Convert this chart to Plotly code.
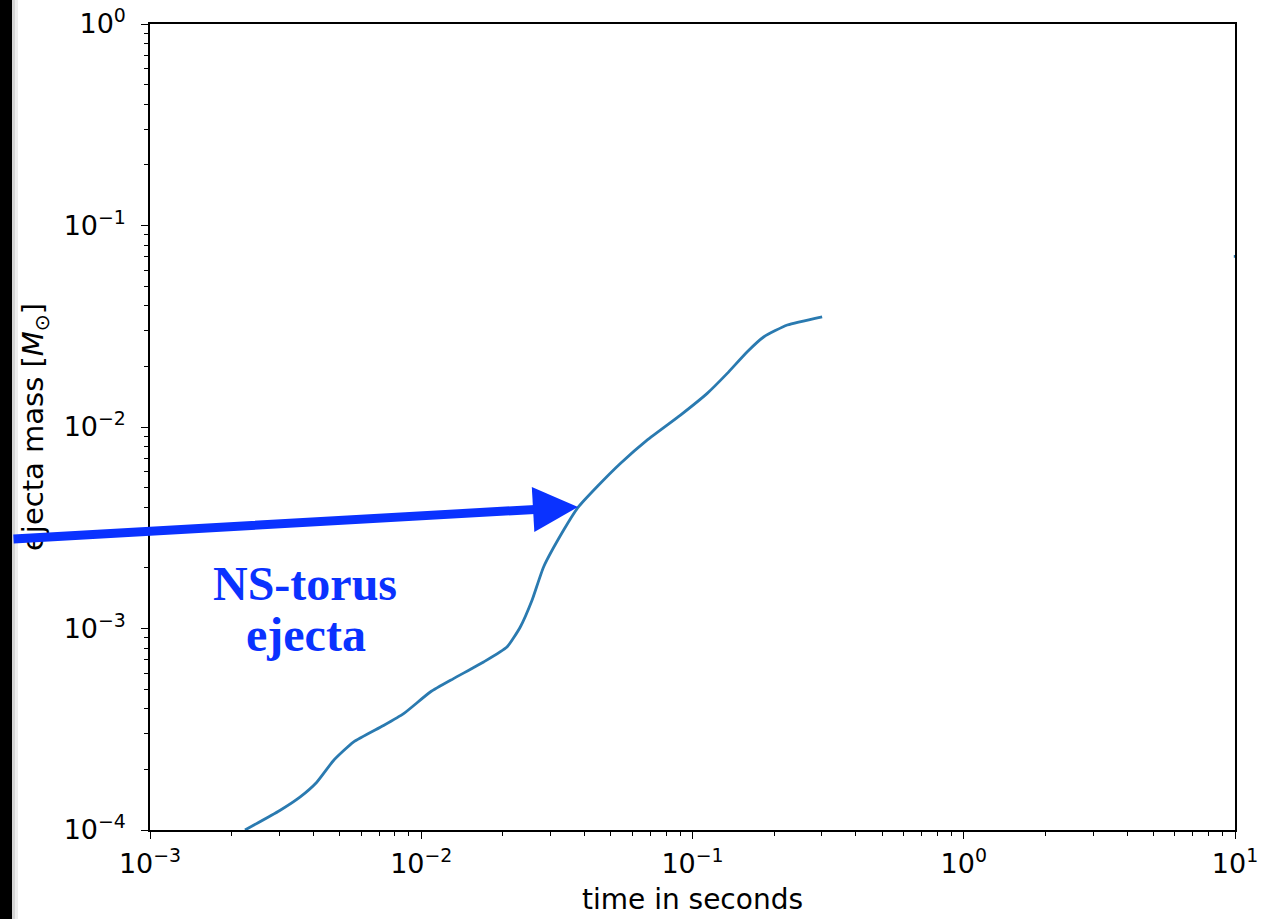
import plotly.graph_objects as go

# ---- data ----
time_s = [0.00224, 0.00301, 0.00357, 0.00412, 0.00475, 0.00562, 0.00726, 0.00861,
          0.0108, 0.01315, 0.01698, 0.0207, 0.02318, 0.02561, 0.02825, 0.0335,
          0.03785, 0.04446, 0.0542, 0.068, 0.0903, 0.1133, 0.1343, 0.1592,
          0.1834, 0.2236, 0.3006]
ejecta_mass = [1.0e-4, 1.25e-4, 1.456e-4, 1.727e-4, 2.213e-4, 2.73e-4, 3.30e-4, 3.78e-4,
               4.84e-4, 5.64e-4, 6.82e-4, 8.09e-4, 1.017e-3, 1.38e-3, 2.02e-3, 3.08e-3,
               3.99e-3, 5.05e-3, 6.59e-3, 8.61e-3, 0.01146, 0.01469, 0.01846, 0.02364,
               0.02805, 0.03206, 0.03524]
# second (barely visible) series clipped at the right edge
time_s_2 = [9.9, 12.0]
ejecta_mass_2 = [0.0703, 0.0706]

x_tickvals = [1e-3, 1e-2, 1e-1, 1e0, 1e1]
x_ticktext = ["10<sup>\u22123</sup>", "10<sup>\u22122</sup>", "10<sup>\u22121</sup>",
              "10<sup>0</sup>", "10<sup>1</sup>"]
y_tickvals = [1e-4, 1e-3, 1e-2, 1e-1, 1e0]
y_ticktext = ["10<sup>\u22124</sup>", "10<sup>\u22123</sup>", "10<sup>\u22122</sup>",
              "10<sup>\u22121</sup>", "10<sup>0</sup>"]

W, H = 1261, 919
ML, MR, MT, MB = 150, 26, 24, 89
PW, PH = W - ML - MR, H - MT - MB

def px(xp):
    return (xp - ML) / PW

def py(yp):
    return (H - MB - yp) / PH

BLUE = "#0A32FF"
LINE = "#2a7ab0"

fig = go.Figure()
fig.add_trace(go.Scatter(x=time_s, y=ejecta_mass, mode="lines",
                         line=dict(color=LINE, width=2.8, shape="spline", smoothing=0.5),
                         showlegend=False, hoverinfo="skip"))
fig.add_trace(go.Scatter(x=time_s_2, y=ejecta_mass_2, mode="lines",
                         line=dict(color=LINE, width=2.8),
                         showlegend=False, hoverinfo="skip"))

axis_common = dict(
    type="log", showgrid=False, zeroline=False,
    showline=True, linecolor="black", linewidth=1.5, mirror=True,
    ticks="outside", ticklen=7, tickwidth=1.3, tickcolor="black",
    tickfont=dict(family="DejaVu Sans", size=27, color="black"),
    minor=dict(ticks="outside", ticklen=4, tickwidth=1, tickcolor="black",
               dtick="D1", showgrid=False),
)

fig.update_xaxes(range=[-3, 1], tickvals=x_tickvals, ticktext=x_ticktext,
                 title=dict(text="time in seconds",
                            font=dict(family="DejaVu Sans", size=28, color="black"),
                            standoff=11),
                 ticklabelstandoff=2,
                 **axis_common)
fig.update_yaxes(range=[-4, 0], tickvals=y_tickvals, ticktext=y_ticktext,
                 ticklabelstandoff=10,
                 **axis_common)

# y title placed explicitly
fig.add_annotation(text="ejecta mass [<i>M</i><sub>\u2299</sub>]", textangle=-90,
                   xref="paper", yref="paper", x=px(35), y=py(427),
                   xanchor="center", yanchor="middle", showarrow=False,
                   font=dict(family="DejaVu Sans", size=29, color="black"))

# blue arrow
fig.add_annotation(text="", xref="paper", yref="paper", x=px(578), y=py(507),
                   ax=12 - 578, ay=539 - 507, axref="pixel", ayref="pixel",
                   showarrow=True, arrowhead=2, arrowsize=1.0, arrowwidth=9,
                   arrowcolor=BLUE, standoff=0, startstandoff=0)

# label text
fig.add_annotation(text="<b>NS-torus</b>", xref="paper", yref="paper",
                   x=px(305), y=py(583), xanchor="center", yanchor="middle",
                   showarrow=False, font=dict(family="Liberation Serif", size=48, color=BLUE))
fig.add_annotation(text="<b>ejecta</b>", xref="paper", yref="paper",
                   x=px(306), y=py(634), xanchor="center", yanchor="middle",
                   showarrow=False, font=dict(family="Liberation Serif", size=48, color=BLUE))

# black bar and its shadow at the left edge
fig.add_shape(type="rect", xref="paper", yref="paper", x0=px(12), x1=px(18),
              y0=py(H + 5), y1=py(-5), line=dict(width=0), fillcolor="rgba(0,0,0,0.07)",
              layer="above")
fig.add_shape(type="rect", xref="paper", yref="paper", x0=px(12), x1=px(15),
              y0=py(H + 5), y1=py(-5), line=dict(width=0), fillcolor="rgba(0,0,0,0.10)",
              layer="above")
fig.add_shape(type="rect", xref="paper", yref="paper", x0=px(-5), x1=px(12),
              y0=py(H + 5), y1=py(-5), line=dict(width=0), fillcolor="black",
              layer="above")

fig.update_layout(width=W, height=H, margin=dict(l=ML, r=MR, t=MT, b=MB, autoexpand=False),
                  paper_bgcolor="white", plot_bgcolor="white", showlegend=False)

fig.write_html("out.html",
               config={"displayModeBar": False},
               post_script="document.body.style.margin='0px';"
                           "document.body.style.overflow='hidden';")
